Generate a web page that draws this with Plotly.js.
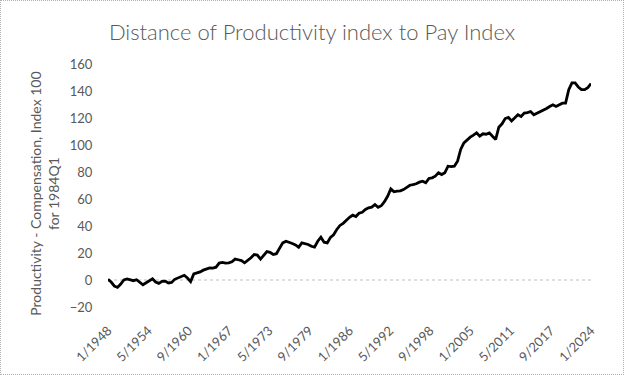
<!DOCTYPE html>
<html>
<head>
<meta charset="utf-8">
<script src="https://cdn.plot.ly/plotly-3.0.1.min.js"></script>
<style>
  html, body { margin: 0; padding: 0; background: #ffffff; }
  #wrap { position: relative; width: 624px; height: 375px; }
  #chart { position: absolute; left: 0; top: 0; width: 624px; height: 375px; }
  #frame { position: absolute; left: 0; top: 0; width: 622px; height: 373px;
           border: 1px dotted #b0b0b0; pointer-events: none; }
</style>
</head>
<body>
<div id="wrap"><div id="chart"></div><div id="frame"></div></div>
<script>
// Half-yearly readings (January, July) of Productivity - Compensation gap
const startYear = 1948;
const gap1948to1959 = [0.5, -1.5, -4.5, -5.5, -3, 0, 0.8, 0, -0.5, 0.2, -1.5, -3.5,
                       -2, -0.5, 0.9, -1.5, -2.5, -1, -0.8, -2.2, -1.8, 0.5, 1.5, 2.2];
const gap1960to1971 = [3.5, 1.5, -1.2, 4.5, 5, 6, 7.3, 8, 9, 8.8, 9.5, 12.5,
                       13, 12.5, 12.7, 13.5, 15.5, 15, 14.4, 12.7, 14.5, 16.5, 18.9, 18.5];
const gap1972to1983 = [15.5, 18.5, 21, 20.5, 18.9, 19.5, 23.5, 27.5, 28.7, 28, 27, 26,
                       24.3, 27.5, 27, 26.3, 25, 24.3, 28.7, 31.7, 28, 27.5, 31.5, 33.5];
const gap1984to1995 = [37.4, 40.4, 42, 44.5, 46.5, 48, 47, 49.5, 50.2, 52.2, 53.5, 54,
                       55.9, 53.8, 55, 58, 62, 67.5, 65.3, 65.8, 66, 67, 68.3, 70.2];
const gap1996to2007 = [70.7, 71.3, 72.5, 73.2, 72, 75.2, 75.7, 76.9, 79.4, 78.1, 79.4, 84.3,
                       84, 84.3, 88, 96.7, 101.6, 104, 105.8, 107.3, 109, 106.5, 108.3, 108];
const gap2008to2019 = [109, 106.5, 104.1, 113.2, 115.7, 119.6, 120.4, 117.8, 119.8, 122.4, 121.1, 123.6,
                       124, 124.8, 122.4, 123.5, 124.8, 125.3, 127, 128.5, 129.8, 128.5, 130, 131];
const gap2020to2024 = [131, 141, 146, 146, 143, 141, 141, 142.5, 145.5];

const tickDates  = ["1948-01-01", "1954-05-01", "1960-09-01", "1967-01-01", "1973-05-01",
                    "1979-09-01", "1986-01-01", "1992-05-01", "1998-09-01", "2005-01-01",
                    "2011-05-01", "2017-09-01", "2024-01-01"];
const tickLabels = ["1/1948", "5/1954", "9/1960", "1/1967", "5/1973", "9/1979", "1/1986",
                    "5/1992", "9/1998", "1/2005", "5/2011", "9/2017", "1/2024"];

const gapValues = [].concat(gap1948to1959, gap1960to1971, gap1972to1983, gap1984to1995,
                            gap1996to2007, gap2008to2019, gap2020to2024);
const periods = gapValues.map((_, i) => {
  const y = startYear + Math.floor(i / 2);
  return y + (i % 2 === 0 ? "-01-01" : "-07-01");
});

const font = "Lato, 'Open Sans', 'Liberation Sans', sans-serif";
const grey = "#595959";

Plotly.newPlot("chart", [{
  type: "scatter",
  mode: "lines",
  x: periods,
  y: gapValues,
  line: { color: "#000000", width: 2.8 },
  hoverinfo: "skip"
}], {
  width: 624,
  height: 375,
  margin: { l: 108, r: 33, t: 64, b: 67.5 },
  paper_bgcolor: "#ffffff",
  plot_bgcolor: "#ffffff",
  showlegend: false,
  title: {
    text: "Distance of Productivity index to Pay Index",
    font: { family: font, size: 22, color: grey, weight: 300 },
    x: 0.5, xref: "container", xanchor: "center",
    y: 0.915, yref: "container", yanchor: "middle"
  },
  xaxis: {
    type: "date",
    range: ["1948-01-01", "2024-01-01"],
    tickmode: "array",
    tickvals: tickDates,
    ticktext: tickLabels,
    tickangle: -45,
    ticks: "outside",
    ticklen: 10,
    tickcolor: "rgba(0,0,0,0)",
    showgrid: false,
    zeroline: false,
    showline: false,
    tickfont: { family: font, size: 13, color: grey }
  },
  yaxis: {
    range: [-20, 160],
    tickmode: "linear",
    tick0: -20,
    dtick: 20,
    ticks: "outside",
    ticklen: 12,
    tickcolor: "rgba(0,0,0,0)",
    showgrid: false,
    zeroline: false,
    showline: false,
    tickfont: { family: font, size: 13, color: grey }
  },
  annotations: [{
    text: "Productivity - Compensation, Index 100<br>for 1984Q1",
    font: { family: font, size: 14, color: grey },
    textangle: -90,
    showarrow: false,
    xref: "paper", x: (45 - 108) / 483, xanchor: "center",
    yref: "paper", y: (307.5 - 194) / 243.5, yanchor: "middle",
    align: "center"
  }],
  shapes: [{
    type: "line", layer: "below",
    xref: "paper", x0: 0, x1: 1,
    yref: "y", y0: 0, y1: 0,
    line: { color: "#bfbfbf", width: 1, dash: "dot" }
  }]
}, { displayModeBar: false, staticPlot: true });
</script>
</body>
</html>
